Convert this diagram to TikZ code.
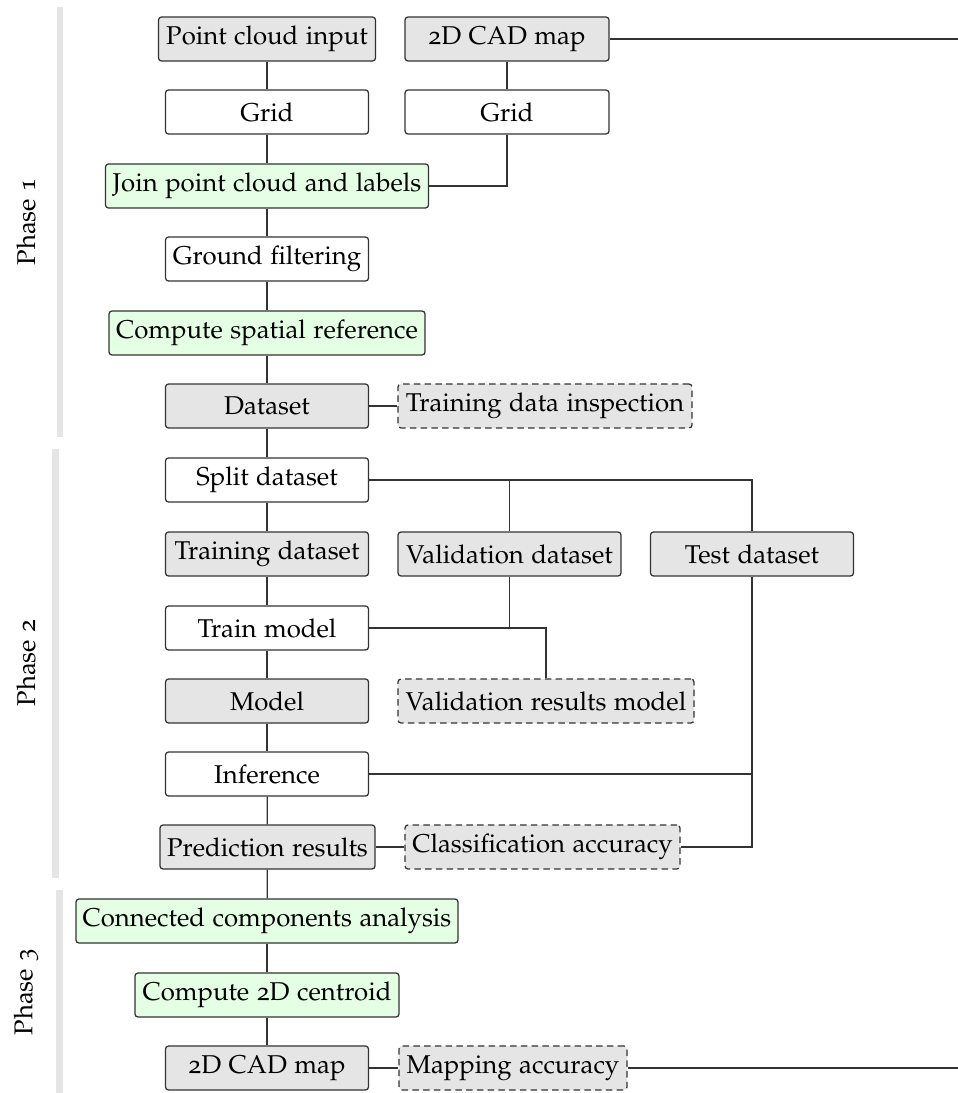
\documentclass[tikz,border=0pt]{standalone}
\usepackage[T1]{fontenc}
\usepackage[osf]{mathpazo}
\begin{document}
\begin{tikzpicture}[x=0.4pt,y=-0.4pt,
  every node/.style={font=\fontsize{10.3}{12.4}\selectfont},
  box/.style={draw=black!80, rounded corners=1.2pt, minimum height=17.6pt, inner sep=0pt, line width=0.5pt},
  gbox/.style={box, fill=black!10},
  wbox/.style={box, fill=white},
  cbox/.style={box, fill=green!10},
  dbox/.style={box, fill=black!10, dash pattern=on 2.6pt off 1.7pt},
  link/.style={draw=black!80, line width=0.5pt},
  phasebar/.style={fill=black!10, draw=none}]
\useasboundingbox (0,0) rectangle (958,1093);
% phase bars
\fill[phasebar] (57,7) rectangle (63,437);
\fill[phasebar] (52,449) rectangle (59,878);
\fill[phasebar] (56,890) rectangle (63,1093);
\node[rotate=90] (ph1) at (26,222) {Phase 1};
\node[rotate=90] (ph2) at (26,663) {Phase 2};
\node[rotate=90] (ph3) at (26,992) {Phase 3};
% nodes
\node[gbox, minimum width=86.8pt] (pci) at (267,39) {Point cloud input};
\node[gbox, minimum width=81.6pt] (cad1) at (507,39) {2D CAD map};
\node[wbox, minimum width=81.2pt] (grid1) at (267,112) {Grid};
\node[wbox, minimum width=81.6pt] (grid2) at (507,112) {Grid};
\node[cbox, minimum width=129.2pt] (join) at (267,186) {Join point cloud and labels};
\node[wbox, minimum width=81.2pt] (ground) at (267,259) {Ground filtering};
\node[cbox, minimum width=126.4pt] (spatial) at (267,333) {Compute spatial reference};
\node[gbox, minimum width=81.2pt] (data) at (267,406) {Dataset};
\node[dbox, minimum width=117.6pt] (tdi) at (545,406) {Training data inspection};
\node[wbox, minimum width=81.2pt] (split) at (267,480) {Split dataset};
\node[gbox, minimum width=81.2pt] (trainds) at (267,554) {Training dataset};
\node[gbox, minimum width=89.2pt] (val) at (509.5,554) {Validation dataset};
\node[gbox, minimum width=81.2pt] (test) at (752,554) {Test dataset};
\node[wbox, minimum width=81.2pt] (train) at (267,628) {Train model};
\node[gbox, minimum width=81.2pt] (model) at (267,701) {Model};
\node[dbox, minimum width=118.4pt] (valres) at (546,701) {Validation results model};
\node[wbox, minimum width=81.2pt] (inf) at (267,774) {Inference};
\node[gbox, minimum width=86pt] (pred) at (267.5,847) {Prediction results};
\node[dbox, minimum width=110pt] (cls) at (542.5,847) {Classification accuracy};
\node[cbox, minimum width=152.8pt] (cca) at (267,921) {Connected components analysis};
\node[cbox, minimum width=105.6pt] (cent) at (267,995) {Compute 2D centroid};
\node[gbox, minimum width=81.2pt] (cad2) at (267,1068) {2D CAD map};
\node[dbox, minimum width=91.2pt] (map) at (513,1068) {Mapping accuracy};
\coordinate (rtop) at (958,39);
\coordinate (rbot) at (958,1068);
% connectors
\draw[link] (pci) -- (grid1);
\draw[link] (grid1) -- (join);
\draw[link] (cad1) -- (grid2);
\draw[link] (grid2) |- (join);
\draw[link] (cad1) -- (rtop);
\draw[link] (join) -- (ground);
\draw[link] (ground) -- (spatial);
\draw[link] (spatial) -- (data);
\draw[link] (data) -- (tdi);
\draw[link] (data) -- (split);
\draw[link] (split) -- (trainds);
\draw[link] (split) -| (val);
\draw[link] (split) -| (test);
\draw[link] (trainds) -- (train);
\draw[link] (val) |- (train);
\draw[link] (train) -| (valres);
\draw[link] (train) -- (model);
\draw[link] (model) -- (inf);
\draw[link] (test) |- (inf);
\draw[link] (test) |- (cls);
\draw[link] (inf) -- (pred);
\draw[link] (pred) -- (cls);
\draw[link] (pred) -- (cca);
\draw[link] (cca) -- (cent);
\draw[link] (cent) -- (cad2);
\draw[link] (cad2) -- (map);
\draw[link] (map) -- (rbot);
\end{tikzpicture}
\end{document}
